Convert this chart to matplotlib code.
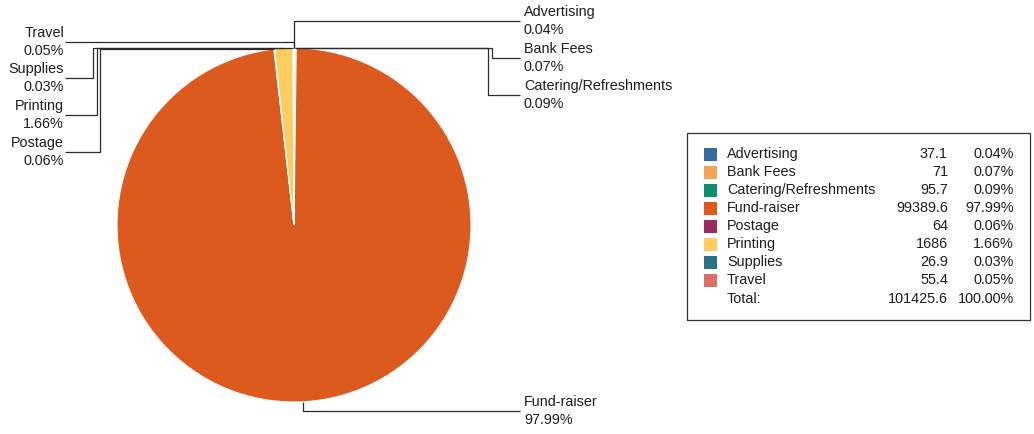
import numpy as np
import matplotlib
matplotlib.use("Agg")
import matplotlib.pyplot as plt
from matplotlib.patches import Rectangle

plt.rcParams['font.family'] = ['Liberation Sans', 'DejaVu Sans']

categories = ["Advertising", "Bank Fees", "Catering/Refreshments", "Fund-raiser",
              "Postage", "Printing", "Supplies", "Travel"]
amounts = [37.1, 71, 95.7, 99389.6, 64, 1686, 26.9, 55.4]
amount_labels = ["37.1", "71", "95.7", "99389.6", "64", "1686", "26.9", "55.4"]
total_label = "101425.6"
colors = ["#3b6aa0", "#f2a457", "#0f8c6e", "#dd5a1f",
          "#9c2b63", "#fecd5e", "#2c7088", "#dc6f63"]

W, H = 1034, 434
fig = plt.figure(figsize=(W / 100, H / 100), dpi=100)
ax = fig.add_axes([0, 0, 1, 1])
ax.set_xlim(0, W)
ax.set_ylim(0, H)
ax.axis("off")

def py(y):
    # pixel row -> data y
    return H - y

cx, cy, r = 294, py(225), 177
vals = np.array(amounts)
pct = vals / vals.sum() * 100

wedges, _ = ax.pie(vals, colors=colors, startangle=90, counterclock=False,
                   center=(cx, cy), radius=r,
                   wedgeprops=dict(edgecolor="white", linewidth=0.8))
ax.set_xlim(0, W)
ax.set_ylim(0, H)
ax.set_aspect("equal")

fs = 10.4
lc = "#2a2a2a"
lw = 0.9
tc = "#1e1e1e"

# label layout: (side, label y center px, elbow x px or None)
layout = {
    "Advertising": ("R", 21, None),
    "Bank Fees": ("R", 58, 492),
    "Catering/Refreshments": ("R", 95, 488),
    "Fund-raiser": ("R", 411, None),
    "Postage": ("L", 152, 100),
    "Printing": ("L", 115, 97),
    "Supplies": ("L", 78, 93),
    "Travel": ("L", 42, None),
}

for w, name, p in zip(wedges, categories, pct):
    mid = np.deg2rad((w.theta1 + w.theta2) / 2)
    ax_x = cx + r * np.cos(mid)
    ax_y = cy + r * np.sin(mid)
    side, ly, ex = layout[name]
    ly = py(ly)
    if ex is None:
        xs = [ax_x, ax_x]
        ys = [ax_y, ly]
    else:
        xs = [ax_x, ex, ex]
        ys = [ax_y, ax_y, ly]
    if side == "R":
        xs.append(520)
        tx, ha = 524, "left"
    else:
        xs.append(65)
        tx, ha = 64, "right"
    ys.append(ly)
    ax.plot(xs, ys, color=lc, lw=lw, solid_capstyle="butt")
    ax.text(tx, ly + 9, name, ha=ha, va="center", fontsize=fs, color=tc)
    ax.text(tx, ly - 9, "%.2f%%" % p, ha=ha, va="center", fontsize=fs, color=tc)

# legend table
ax.add_patch(Rectangle((687, py(320)), 343, 187, facecolor="white",
                       edgecolor="#333333", lw=0.9))
row0, dy = 154, 18
for i, (name, lab, p, c) in enumerate(zip(categories, amount_labels, pct, colors)):
    yy = py(row0 + i * dy)
    ax.add_patch(Rectangle((704, yy - 6.5), 13, 13, facecolor=c, edgecolor="none"))
    ax.text(727, yy, name, ha="left", va="center", fontsize=fs, color=tc)
    ax.text(948, yy, lab, ha="right", va="center", fontsize=fs, color=tc)
    ax.text(1014, yy, "%.2f%%" % p, ha="right", va="center", fontsize=fs, color=tc)
yy = py(row0 + 8 * dy + 1)
ax.text(727, yy, "Total:", ha="left", va="center", fontsize=fs, color=tc)
ax.text(948, yy, total_label, ha="right", va="center", fontsize=fs, color=tc)
ax.text(1014, yy, "%.2f%%" % pct.sum(), ha="right", va="center", fontsize=fs, color=tc)

fig.savefig("out.png", dpi=100)
